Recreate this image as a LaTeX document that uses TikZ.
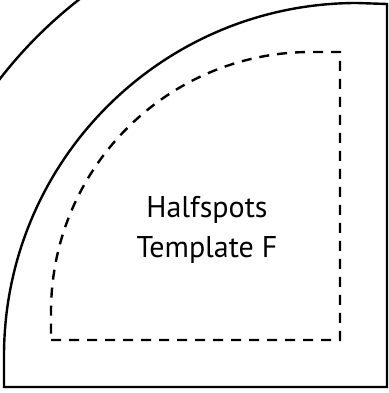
\documentclass[tikz,border=0pt]{standalone}
\usepackage{fontspec}
\setmainfont{PT Sans}
\usepackage{tikz}
\usetikzlibrary{positioning,calc}

\begin{document}
\begin{tikzpicture}[x=1pt, y=1pt, line width=2.4pt,
    cutline/.style={dash pattern=on 10pt off 8pt}]
    \useasboundingbox (0,0) rectangle (388,393);
    \clip (0,0) rectangle (388,393);

    % Outer rim
    \draw (357,37) ++(120:452) arc (120:170:452);

    % Template outline
    \draw (4,6) -- (387,6) -- (387,389) -- (357,390) arc (90:180:353) -- cycle;

    % Seam allowance
    \draw[cutline] (51,53) -- (340,53) -- (340,341) -- (311,341) arc (90:180:260) -- cycle;

    % Label
    \node[align=center, font=\fontsize{30}{40}\selectfont] (title) at (207,163) {Halfspots\\Template F};
\end{tikzpicture}
\end{document}
